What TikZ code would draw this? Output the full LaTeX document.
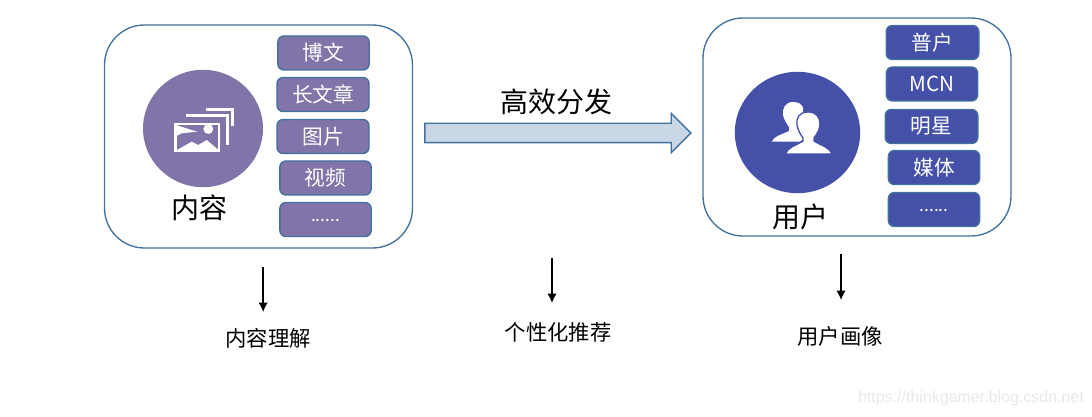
\documentclass[tikz,border=0pt]{standalone}
\usepackage{fontspec}
\setmainfont{Noto Sans CJK SC}
\newfontfamily\markfont{Liberation Sans}
\usepackage{xcolor}
\usetikzlibrary{shapes.geometric,shapes.arrows,arrows.meta}
\definecolor{framecolor}{HTML}{41719C}
\definecolor{contentcolor}{HTML}{8074A8}
\definecolor{usercolor}{HTML}{4550A8}
\definecolor{flowcolor}{HTML}{C9D6E6}
\tikzset{
  panel/.style={rectangle, draw=framecolor, fill=white, line width=1pt, rounded corners=30pt, inner sep=0pt},
  tag/.style={rectangle, draw=framecolor, line width=1pt, rounded corners=4.5pt, inner sep=0pt,
              minimum width=68.5pt, minimum height=25.5pt, text=white, font=\fontsize{15.5pt}{18pt}\selectfont},
  contenttag/.style={tag, fill=contentcolor},
  usertag/.style={tag, fill=usercolor},
  bigcircle/.style={ellipse, inner sep=0pt, draw=none},
  title/.style={font=\fontsize{21pt}{24pt}\selectfont, inner sep=0pt},
  caption/.style={font=\fontsize{16pt}{18pt}\selectfont, inner sep=0pt},
  downarrow/.style={-{Latex[length=7pt,width=7pt]}, line width=1.1pt},
  iconline/.style={draw=white, line width=2pt},
  iconfill/.style={fill=white, draw=none}
}
\begin{document}
\begin{tikzpicture}[x=0.75pt,y=-0.75pt]
\useasboundingbox (0,0) rectangle (1092,417);

\node[panel, minimum width=231pt, minimum height=167.25pt] (contentpanel) at (258.5,136.5) {};
\node[bigcircle, fill=contentcolor, minimum width=90pt, minimum height=88pt] (contentcircle) at (203,128.5) {};
\node[title] (contenttitle) at (199,208) {内容};
\node[contenttag] (bowen) at (323.5,53) {博文};
\node[contenttag, minimum width=69pt] (changwen) at (323,94.5) {长文章};
\node[contenttag, minimum width=69pt] (tupian) at (323,136.5) {图片};
\node[contenttag] (shipin) at (325.5,178) {视频};
\node[contenttag, font=\fontsize{13pt}{18pt}\selectfont] (contentmore) at (325.5,219.5) {\raisebox{-3pt}{......}};

% picture icon
\draw[iconline] (175.5,124) rectangle (219,151);
\draw[iconline, line width=2.4pt] (186,115.5) -- (227.3,115.5) -- (227.3,145);
\draw[iconline, line width=2.4pt] (205.7,109.5) -- (232.7,109.5) -- (232.7,126);
\fill[white] (208.3,129) circle (3.7pt);
\path[iconfill] (176,125) -- (197,131.7) -- (181.7,133.3) -- (176.5,136) -- cycle;
\path[iconfill] (177,150) -- (191.7,141.7) -- (198.3,145) -- (206.7,140) -- (218.5,150) -- cycle;

\node[single arrow, draw=framecolor, fill=flowcolor, line width=1pt, inner xsep=0pt, inner ysep=6.75pt, outer sep=0pt,
      single arrow head extend=7.5pt, single arrow tip angle=90, minimum height=199.5pt] (flow) at (553,133) {};
\node[title] (flowtitle) at (556,102) {高效分发};

\node[panel, minimum width=231pt, minimum height=163.5pt] (userpanel) at (857,127) {};
\node[bigcircle, fill=usercolor, minimum width=94pt, minimum height=91pt] (usercircle) at (797.5,132.5) {};
\node[title] (usertitle) at (800,217) {用户};
\node[usertag, minimum width=69.5pt] (putong) at (932.5,42.5) {普户};
\node[usertag] (mcn) at (932,84) {MCN};
\node[usertag, minimum width=69.5pt] (mingxing) at (931.5,126.5) {明星};
\node[usertag] (meiti) at (934,167.5) {媒体};
\node[usertag, font=\fontsize{13pt}{18pt}\selectfont] (usermore) at (934,209.5) {\raisebox{-3pt}{......}};

% people icon
\path[iconfill] (793,102) .. controls (785,102) and (782,109) .. (783,115)
  .. controls (784,120) and (787,124) .. (789,127) -- (789,131)
  .. controls (781,135) and (774,136) .. (771.7,141.7) -- (800,141.7) -- (807,135)
  -- (798,126) .. controls (802,120) and (804,113) .. (803,108) .. controls (802,104) and (798,102) .. (793,102) -- cycle;
\path[iconfill, draw=usercolor, line width=1pt] (808.3,112) .. controls (799,112) and (796,118) .. (797,125)
  .. controls (798,131) and (801,135) .. (803,138) -- (803,141)
  .. controls (795,146) and (788,147) .. (785.5,154) -- (832,154)
  .. controls (829,147) and (822,146) .. (814,141) -- (814,138)
  .. controls (817,134) and (820,129) .. (820,124) .. controls (820,117) and (816,112) .. (808.3,112) -- cycle;

\coordinate (contentstart) at (263.2,267);
\coordinate (contentend) at (263.2,312);
\coordinate (flowstart) at (552,258);
\coordinate (flowend) at (552,303);
\coordinate (userstart) at (841,254);
\coordinate (userend) at (841,300);
\draw[downarrow] (contentstart) -- (contentend);
\draw[downarrow] (flowstart) -- (flowend);
\draw[downarrow] (userstart) -- (userend);

\node[caption] (contentcaption) at (268,338) {内容理解};
\node[caption] (flowcaption) at (558,332) {个性化推荐};
\node[caption] (usercaption) at (840,336) {用户画像};

\node[inner sep=0pt, text=black!9, font=\markfont\fontsize{12pt}{14pt}\selectfont] (watermark) at (971,398) {https://thinkgamer.blog.csdn.net};
\end{tikzpicture}
\end{document}
